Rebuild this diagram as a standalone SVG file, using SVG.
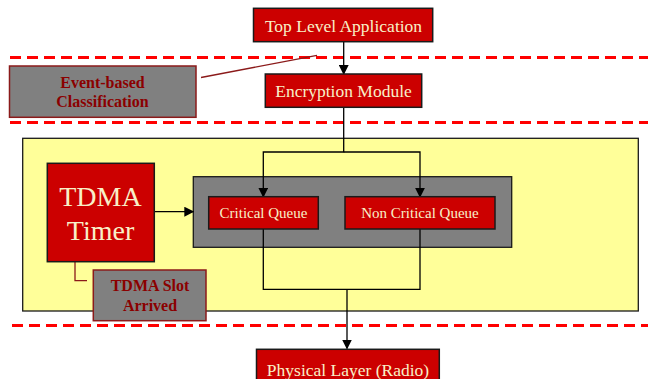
<svg xmlns="http://www.w3.org/2000/svg" width="648" height="379" viewBox="0 0 648 379">
<defs>
<style>
.red{fill:#cc0000;stroke:#1a1a1a;stroke-width:1.5}
.gray{fill:#808080;stroke:#8b1a1a;stroke-width:1.5}
.wt{font-family:"Liberation Serif",serif;fill:#f8f0c8;text-anchor:middle}
.rt{font-family:"Liberation Serif",serif;fill:#8b0000;font-weight:bold;text-anchor:middle;font-size:16px}
.dash{stroke:#ff0000;stroke-width:3;stroke-dasharray:11,6;fill:none}
.ln{stroke:#000;stroke-width:1.3;fill:none}
.dr{stroke:#8b1a1a;stroke-width:1.3;fill:none}
</style>
<marker id="ah" markerWidth="10" markerHeight="10" refX="9" refY="5" orient="auto" markerUnits="userSpaceOnUse">
<path d="M0,0 L10,5 L0,10 Z" fill="#000"/>
</marker>
</defs>
<rect width="648" height="379" fill="#fff"/>
<g id="dashes">
<line class="dash" x1="10" y1="57.5" x2="648" y2="57.5"/>
<line class="dash" x1="10" y1="122.5" x2="648" y2="122.5"/>
<line class="dash" x1="12" y1="325.5" x2="648" y2="325.5"/>
</g>
<g id="container">
<rect x="22.7" y="138.3" width="615.6" height="172.7" fill="#ffff99" stroke="#1a1a1a" stroke-width="1.3"/>
</g>
<g id="queue-group">
<rect x="193.3" y="176.7" width="318.4" height="70.6" fill="#808080" stroke="#1a1a1a" stroke-width="1.3"/>
</g>
<g id="connectors">
<line class="ln" x1="343.7" y1="42" x2="343.7" y2="74" marker-end="url(#ah)"/>
<polyline class="ln" points="343.7,107.5 343.7,152 263.3,152 263.3,196.7" marker-end="url(#ah)"/>
<polyline class="ln" points="343.7,152 420,152 420,196.7" marker-end="url(#ah)"/>
<polyline class="ln" points="263.3,229 263.3,289.3 420,289.3 420,229"/>
<line class="ln" x1="347" y1="289.3" x2="347" y2="348.5" marker-end="url(#ah)"/>
<line class="ln" x1="154.3" y1="211.7" x2="193.3" y2="211.7" marker-end="url(#ah)"/>
<line class="dr" x1="201" y1="77.5" x2="317" y2="55.3"/>
<polyline class="dr" points="75,262 75,280.7 87,280.7"/>
</g>
<g id="top-level-application">
<rect class="red" x="253.5" y="8.3" width="179.2" height="33.4"/>
<text class="wt" x="343.5" y="31.5" font-size="17.5">Top Level Application</text>
</g>
<g id="event-based-classification">
<rect class="gray" x="9.5" y="66" width="186.5" height="51.3"/>
<text class="rt" x="102.5" y="88">Event-based</text>
<text class="rt" x="102.5" y="107">Classification</text>
</g>
<g id="encryption-module">
<rect class="red" x="265.3" y="74" width="156.4" height="33.3"/>
<text class="wt" x="343.5" y="97" font-size="17.5">Encryption Module</text>
</g>
<g id="tdma-timer">
<rect class="red" x="47.3" y="163.3" width="107" height="98.4"/>
<text class="wt" x="100.5" y="206" font-size="28">TDMA</text>
<text class="wt" x="100.5" y="240" font-size="28">Timer</text>
</g>
<g id="critical-queue">
<rect class="red" x="208.7" y="196.7" width="109.6" height="32.3"/>
<text class="wt" x="263.5" y="218" font-size="15">Critical Queue</text>
</g>
<g id="non-critical-queue">
<rect class="red" x="345" y="196.7" width="150" height="32.3"/>
<text class="wt" x="420" y="218" font-size="15">Non Critical Queue</text>
</g>
<g id="tdma-slot-arrived">
<rect class="gray" x="93.3" y="270" width="112.7" height="50.7"/>
<text class="rt" x="150" y="291">TDMA Slot</text>
<text class="rt" x="150" y="311">Arrived</text>
</g>
<g id="physical-layer">
<rect class="red" x="256.5" y="349.3" width="182.8" height="36"/>
<text class="wt" x="348" y="375.5" font-size="17.5">Physical Layer (Radio)</text>
</g>
</svg>
